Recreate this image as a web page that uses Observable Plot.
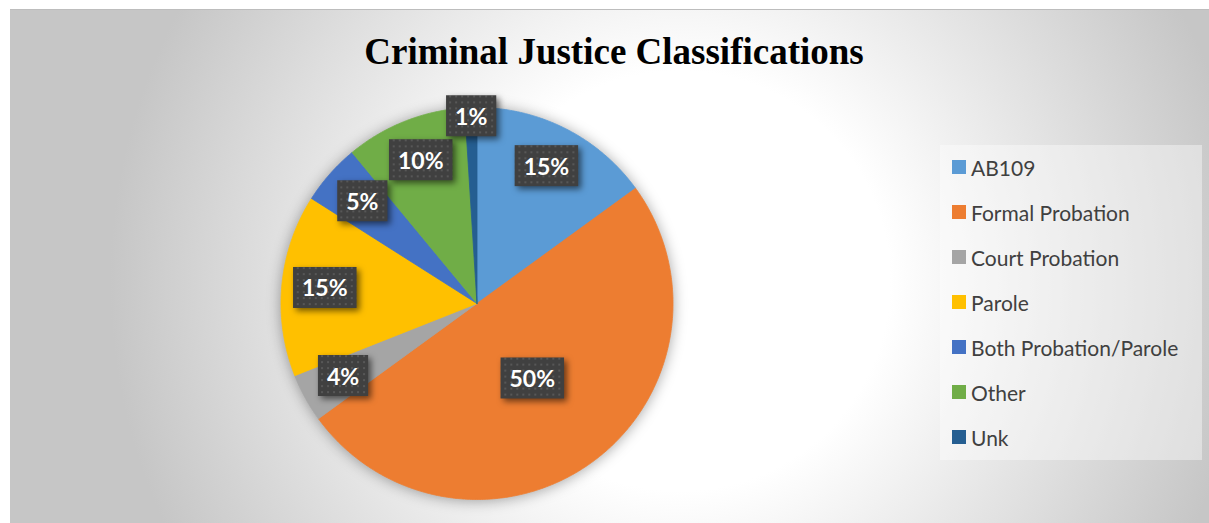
<!DOCTYPE html>
<html>
<head>
<meta charset="utf-8">
<script src="https://cdn.jsdelivr.net/npm/d3@7"></script>
<script src="https://cdn.jsdelivr.net/npm/@observablehq/plot@0.6"></script>
<style>
  body { margin: 0; background: #fff; }
  #chart { position: relative; width: 1209px; height: 523px; overflow: hidden; }
  #bg { position: absolute; left: 10px; top: 9px; width: 1199px; height: 514px;
        background: radial-gradient(circle at 670px 271px, #ffffff 210px, #c6c6c6 570px);
        border-top: 1px solid #bdbdbd; box-sizing: border-box; }
  #title { position: absolute; left: 0; top: 33px; width: 1228px; text-align: center;
           font: bold 37px "Liberation Serif", "Times New Roman", serif; line-height: 37px; color: #000; }
  #plot { position: absolute; left: 0; top: 90px; }
  #legend { position: absolute; left: 940px; top: 145px; width: 262px; height: 315px;
            background: rgba(255,255,255,0.4); }
  .item { position: absolute; left: 12px; height: 24px; display: flex; align-items: center;
          font: 21px Lato, sans-serif; color: #404040; white-space: nowrap; }
  .sw { width: 14px; height: 14px; margin-right: 5px; flex: none; }
</style>
</head>
<body>
<div id="chart">
  <div id="bg"></div>
  <div id="title">Criminal Justice Classifications</div>
  <div id="plot"></div>
  <div id="legend"></div>
</div>
<script>
const categories = ["AB109", "Formal Probation", "Court Probation", "Parole", "Both Probation/Parole", "Other", "Unk"];
const percents = [15, 50, 4, 15, 5, 10, 1];
const colors = ["#5B9BD5", "#ED7D31", "#A5A5A5", "#FFC000", "#4472C4", "#70AD47", "#255E91"];

// pie geometry from d3.pie (angles clockwise from 12 o'clock)
const arcs = d3.pie().sort(null).value(d => d)(percents);
const slicePts = [];
arcs.forEach((a, i) => {
  const cat = categories[i];
  slicePts.push({cat, x: 0, y: 0});
  const n = Math.max(2, Math.ceil((a.endAngle - a.startAngle) / (Math.PI / 360)));
  for (let j = 0; j <= n; j++) {
    const t = a.startAngle + (a.endAngle - a.startAngle) * j / n;
    slicePts.push({cat, x: Math.sin(t), y: Math.cos(t)});
  }
  slicePts.push({cat, x: 0, y: 0});
});
const labels = arcs.map((a, i) => {
  const m = (a.startAngle + a.endAngle) / 2;
  const k = percents[i] >= 40 ? 0.48 : percents[i] <= 2 ? 0.95 : 0.78;
  return {x: k * Math.sin(m), y: k * Math.cos(m), text: percents[i] + "%"};
});

const cx = 476.5, cy = 303 - 90, r = 196;
const svg = Plot.plot({
  width: 1209,
  height: 433,
  margin: 0,
  x: {domain: [-1, 1], range: [cx - r, cx + r], axis: null},
  y: {domain: [-1, 1], range: [cy + r, cy - r], axis: null},
  color: {domain: categories, range: colors},
  marks: [
    Plot.line(slicePts, {x: "x", y: "y", z: "cat", fill: "cat", stroke: "cat", strokeWidth: 0.8, curve: "linear"}),
    Plot.text(labels, {x: "x", y: "y", text: "text", fill: "white", fontSize: 23, fontWeight: "bold", fontFamily: "Lato"})
  ]
});
svg.style.background = "transparent";
svg.style.overflow = "visible";
document.getElementById("plot").appendChild(svg);

const s = d3.select(svg);
const defs = s.insert("defs", ":first-child");
const pat = defs.append("pattern").attr("id", "dots").attr("width", 6).attr("height", 6)
  .attr("patternUnits", "userSpaceOnUse");
pat.append("rect").attr("width", 6).attr("height", 6).attr("fill", "#404040");
pat.append("rect").attr("x", 2).attr("y", 2).attr("width", 2).attr("height", 2).attr("fill", "#575757");

s.selectAll('g[aria-label="line"]').style("filter", "drop-shadow(0px 1px 7px rgba(0,0,0,0.35))");
s.selectAll('g[aria-label="text"] text').each(function() {
  const b = this.getBBox();
  const mx = b.x + b.width / 2, my = b.y + b.height / 2;
  const w = b.width + 18, h = 41;
  const node = this;
  d3.select(this.parentNode).insert("rect", () => node)
    .attr("x", mx - w / 2).attr("y", my - h / 2).attr("width", w).attr("height", h)
    .attr("transform", this.getAttribute("transform"))
    .attr("fill", "url(#dots)")
    .style("filter", "drop-shadow(3px 3px 3px rgba(0,0,0,0.55))");
});

// legend
const legend = d3.select("#legend");
categories.forEach((c, i) => {
  const it = legend.append("div").attr("class", "item").style("top", (10 + i * 45) + "px");
  it.append("div").attr("class", "sw").style("background", colors[i]);
  it.append("span").text(c);
});
</script>
</body>
</html>
